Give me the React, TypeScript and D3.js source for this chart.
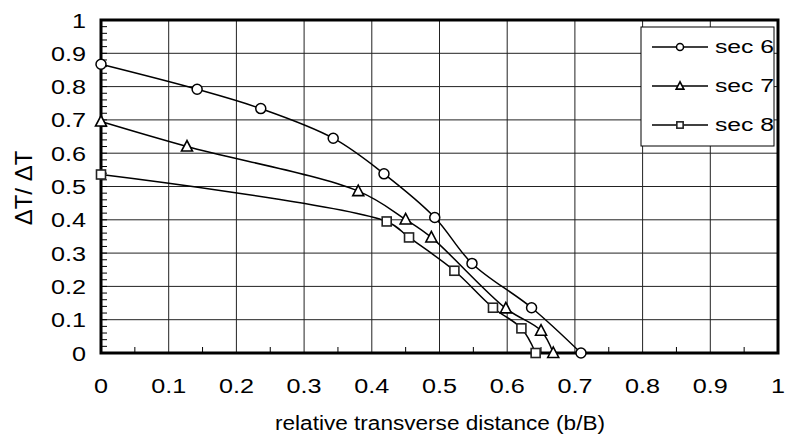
import React from "react";
import * as d3 from "d3";

const xTicks = [0, 0.1, 0.2, 0.3, 0.4, 0.5, 0.6, 0.7, 0.8, 0.9, 1];
const yTicks = [0, 0.1, 0.2, 0.3, 0.4, 0.5, 0.6, 0.7, 0.8, 0.9, 1];
const xTickLabels = ["0", "0.1", "0.2", "0.3", "0.4", "0.5", "0.6", "0.7", "0.8", "0.9", "1"];
const yTickLabels = ["0", "0.1", "0.2", "0.3", "0.4", "0.5", "0.6", "0.7", "0.8", "0.9", "1"];

const sec6X = [0, 0.142, 0.236, 0.343, 0.418, 0.493, 0.548, 0.636, 0.709];
const sec6Y = [0.867, 0.792, 0.734, 0.645, 0.538, 0.407, 0.269, 0.136, 0];
const sec7X = [0, 0.127, 0.38, 0.45, 0.488, 0.598, 0.65, 0.668];
const sec7Y = [0.695, 0.62, 0.486, 0.401, 0.347, 0.134, 0.067, 0];
const sec8X = [0, 0.422, 0.455, 0.522, 0.579, 0.621, 0.642];
const sec8Y = [0.536, 0.395, 0.347, 0.247, 0.136, 0.074, 0];

const seriesNames = ["sec 6", "sec 7", "sec 8"];
const seriesShapes = ["circle", "triangle", "square"];

const W = 787, H = 443;
const L = 101, R = 778, T = 20, B = 353;

const FONT = "'Liberation Sans', Arial, Helvetica, sans-serif";

function Marker({ shape, x, y, s }: { shape: string; x: number; y: number; s: number }) {
  if (shape === "circle")
    return <circle cx={x} cy={y} r={5 * s} fill="#fff" stroke="#000" strokeWidth={1.5} />;
  if (shape === "triangle") {
    const h = 10 * s, w = 11 * s;
    const pts = `${x},${y - h * 0.6} ${x - w / 2},${y + h * 0.45} ${x + w / 2},${y + h * 0.45}`;
    return <polygon points={pts} fill="#fff" stroke="#000" strokeWidth={1.6} />;
  }
  const a = 9 * s;
  return <rect x={x - a / 2} y={y - a / 2} width={a} height={a} fill="#fff" stroke="#222" strokeWidth={1.6} />;
}

export default function App() {
  const x = d3.scaleLinear().domain([0, 1]).range([L, R]);
  const y = d3.scaleLinear().domain([0, 1]).range([B, T]);

  const series = [
    { xs: sec6X, ys: sec6Y },
    { xs: sec7X, ys: sec7Y },
    { xs: sec8X, ys: sec8Y },
  ].map((s, i) => ({
    name: seriesNames[i],
    shape: seriesShapes[i],
    pts: s.xs.map((v, j) => [v, s.ys[j]] as [number, number]),
  }));

  const line = d3
    .line<[number, number]>()
    .x((d) => x(d[0]))
    .y((d) => y(d[1]))
    .curve(d3.curveCatmullRom.alpha(0.5));

  const yMinor = d3.range(0, 1.0001, 0.02);
  const xMinor = d3.range(0.05, 1, 0.1);

  const sx = 1.2;

  return (
    <svg width={W} height={H} style={{ position: "absolute", left: 0, top: 0, background: "#fff" }} fontFamily={FONT}>
      <rect x={0} y={0} width={W} height={H} fill="#fff" />
      {/* grid */}
      {xTicks.slice(1, -1).map((t) => (
        <line key={"gx" + t} x1={x(t)} x2={x(t)} y1={T} y2={B} stroke="#222" strokeWidth={1} />
      ))}
      {yTicks.slice(1, -1).map((t) => (
        <line key={"gy" + t} x1={L} x2={R} y1={y(t)} y2={y(t)} stroke="#222" strokeWidth={1} />
      ))}
      {/* minor ticks */}
      {yMinor.map((t, i) => (
        <line key={"my" + i} x1={L} x2={L + 6} y1={y(t)} y2={y(t)} stroke="#000" strokeWidth={1} />
      ))}
      {xMinor.map((t, i) => (
        <line key={"mx" + i} x1={x(t)} x2={x(t)} y1={B} y2={B - 6} stroke="#000" strokeWidth={1} />
      ))}
      {/* lines */}
      {series.map((s) => (
        <path key={"l" + s.name} d={line(s.pts) || ""} fill="none" stroke="#000" strokeWidth={1.5} />
      ))}
      {/* frame */}
      <rect x={L} y={T} width={R - L} height={B - T} fill="none" stroke="#000" strokeWidth={3} />
      {/* markers */}
      {series.map((s) =>
        s.pts.map((p, j) => <Marker key={s.name + j} shape={s.shape} x={x(p[0])} y={y(p[1])} s={1} />)
      )}
      {/* y tick labels */}
      {yTicks.map((t, i) => (
        <text
          key={"yl" + t}
          transform={`translate(86,${y(t) + 7.5}) scale(${sx},1)`}
          textAnchor="end"
          fontSize={21}
          fill="#000"
        >
          {yTickLabels[i]}
        </text>
      ))}
      {/* x tick labels */}
      {xTicks.map((t, i) => (
        <text
          key={"xl" + t}
          transform={`translate(${x(t)},393) scale(${sx},1)`}
          textAnchor="middle"
          fontSize={21}
          fill="#000"
        >
          {xTickLabels[i]}
        </text>
      ))}
      {/* axis titles */}
      <text
        x={440}
        y={430}
        textAnchor="middle"
        fontSize={20}
        textLength={330}
        lengthAdjust="spacingAndGlyphs"
        fill="#000"
      >
        relative transverse distance (b/B)
      </text>
      <text
        transform={`translate(32,188) rotate(-90)`}
        textAnchor="middle"
        fontSize={24}
        fill="#000"
      >
        ΔT/ ΔT
      </text>
      {/* legend */}
      <rect x={641} y={27} width={133} height={119} fill="#fff" stroke="#000" strokeWidth={1} />
      {series.map((s, i) => {
        const cy = 47 + i * 39;
        return (
          <g key={"lg" + s.name}>
            <line x1={652} x2={708} y1={cy} y2={cy} stroke="#000" strokeWidth={1.5} />
            <Marker shape={s.shape} x={680} y={cy} s={0.7} />
            <text
              transform={`translate(715,${cy + 6}) scale(1.3,1)`}
              fontSize={19}
              fill="#000"
            >
              {s.name}
            </text>
          </g>
        );
      })}
    </svg>
  );
}
